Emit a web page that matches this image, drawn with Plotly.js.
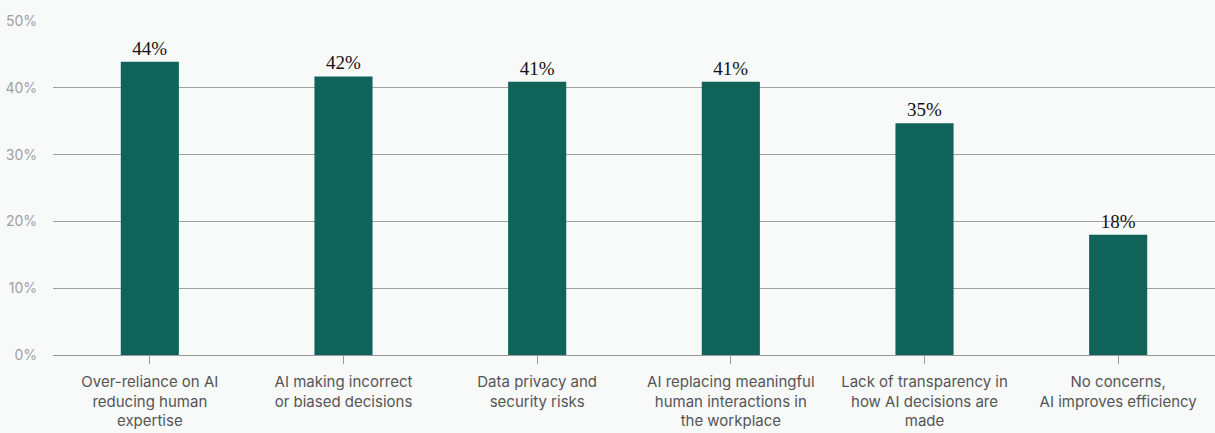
<!DOCTYPE html>
<html><head><meta charset="utf-8">
<script src="https://cdn.plot.ly/plotly-3.0.1.min.js"></script>
<style>html,body{margin:0;padding:0;background:#f8f9f9;}#chart{width:1215px;height:433px;}</style>
</head><body><div id="chart"></div>
<script>
const categories = [
  "Over-reliance on AI<br>reducing human<br>expertise",
  "AI making incorrect<br>or biased decisions",
  "Data privacy and<br>security risks",
  "AI replacing meaningful<br>human interactions in<br>the workplace",
  "Lack of transparency in<br>how AI decisions are<br>made",
  "No concerns,<br>AI improves efficiency"
];
const values = [43.9, 41.7, 40.9, 40.9, 34.7, 18.0];
const valueLabels = ["44%", "42%", "41%", "41%", "35%", "18%"];
const yTickVals = [0, 10, 20, 30, 40, 50];
const yTickText = ["0%", "10%", "20%", "30%", "40%", "50%"];

const trace = {
  type: 'bar', x: categories, y: values,
  text: valueLabels, textposition: 'outside', cliponaxis: false,
  textfont: {family: 'Liberation Serif, serif', size: 19, color: '#111'},
  marker: {color: '#0f6359'}, width: 0.3, hoverinfo: 'skip'
};
const layout = {
  width: 1215, height: 433,
  margin: {l: 53, r: 0, t: 21, b: 78},
  paper_bgcolor: '#f8f9f9', plot_bgcolor: '#f8f9f9',
  showlegend: false,
  xaxis: {
    showgrid: false, ticks: 'outside', ticklen: 8, tickcolor: '#999', tickwidth: 1,
    showline: true, linecolor: '#999', linewidth: 1,
    tickfont: {family: 'Inter, sans-serif', size: 15, color: '#555'},
    ticklabelstandoff: 5,
    automargin: false
  },
  yaxis: {
    range: [0, 50], tickvals: yTickVals, ticktext: yTickText,
    showgrid: true, gridcolor: '#a0a0a0', gridwidth: 1,
    zeroline: false, showline: false, ticks: '',
    tickfont: {family: 'Inter, sans-serif', size: 14, color: '#a0a0a0'},
    ticklabelstandoff: 15, automargin: false
  },
  bargap: 0.7
};
Plotly.newPlot('chart', [trace], layout, {displayModeBar: false, staticPlot: true});
</script></body></html>
